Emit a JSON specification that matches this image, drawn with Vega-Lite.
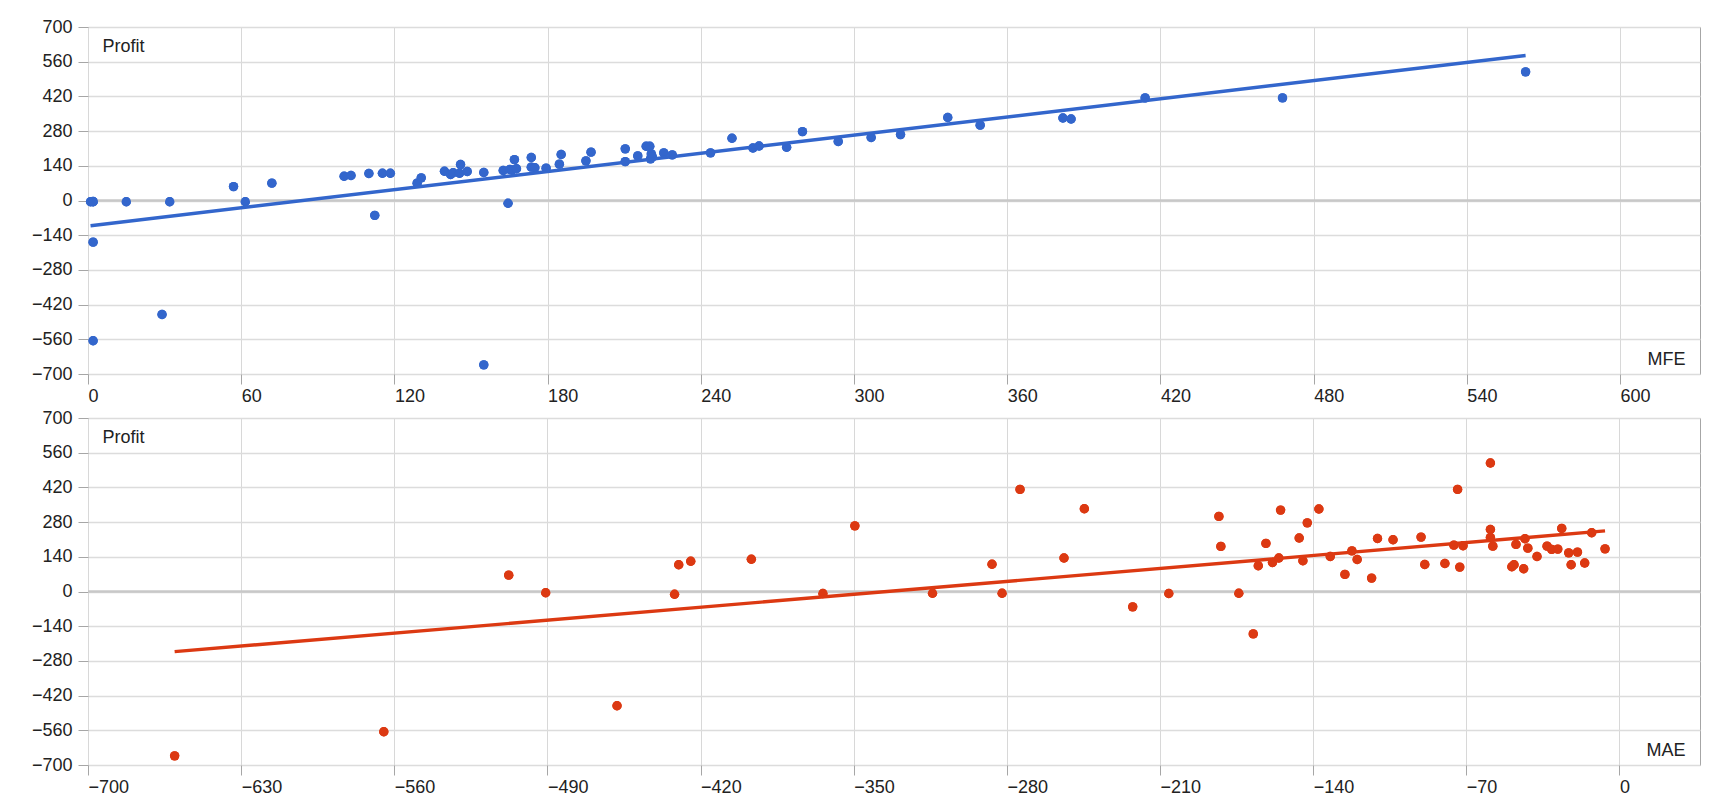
{
  "$schema": "https://vega.github.io/schema/vega-lite/v6.json",
  "padding": {"left": 30, "top": 17, "right": 0, "bottom": 0},
  "bounds": "flush",
  "spacing": 44,
  "background": "white",
  "config": {
    "font": "Liberation Sans",
    "view": {"stroke": "#a6a6a6", "strokeWidth": 1},
    "axis": {
      "labelFontSize": 18,
      "labelColor": "#222222",
      "titleFontSize": 18,
      "titleFontWeight": "normal",
      "titleColor": "#222222",
      "tickSize": 10,
      "tickColor": "#a6a6a6",
      "tickCount": 30,
      "domain": false,
      "labelOverlap": false,
      "labelFlush": false,
      "labelBound": false
    },
    "axisX": {
      "labelAlign": "left",
      "labelDx": 2,
      "labelPadding": 3,
      "gridColor": "#d8d8d8",
      "gridWidth": 1,
      "titleAlign": "right",
      "titleBaseline": "alphabetic",
      "titleX": 1597,
      "titleY": -10
    },
    "axisY": {
      "labelPadding": 6,
      "gridColor": "#dcdcdc",
      "gridWidth": 1.5,
      "titleAngle": 0,
      "titleAlign": "left",
      "titleBaseline": "alphabetic",
      "titleX": 14,
      "titleY": 24
    }
  },
  "datasets": {
    "mfe": [
      {"MFE": 1, "Profit": -5},
      {"MFE": 2, "Profit": -5},
      {"MFE": 2, "Profit": -4},
      {"MFE": 2, "Profit": -168},
      {"MFE": 2, "Profit": -566},
      {"MFE": 15, "Profit": -5},
      {"MFE": 29, "Profit": -460},
      {"MFE": 32, "Profit": -5},
      {"MFE": 57, "Profit": 56},
      {"MFE": 61.6, "Profit": -5},
      {"MFE": 72, "Profit": 70},
      {"MFE": 100.3, "Profit": 98},
      {"MFE": 103, "Profit": 101},
      {"MFE": 110, "Profit": 109},
      {"MFE": 112.3, "Profit": -60},
      {"MFE": 115.3, "Profit": 110},
      {"MFE": 118.4, "Profit": 110},
      {"MFE": 128.9, "Profit": 70},
      {"MFE": 130.5, "Profit": 91.5},
      {"MFE": 139.6, "Profit": 118},
      {"MFE": 142, "Profit": 105},
      {"MFE": 143, "Profit": 112},
      {"MFE": 145.5, "Profit": 110},
      {"MFE": 145.9, "Profit": 145},
      {"MFE": 148.5, "Profit": 117},
      {"MFE": 155, "Profit": 113},
      {"MFE": 155, "Profit": -663},
      {"MFE": 162.6, "Profit": 121},
      {"MFE": 164.5, "Profit": -11},
      {"MFE": 165.2, "Profit": 125},
      {"MFE": 166, "Profit": 123},
      {"MFE": 167, "Profit": 165},
      {"MFE": 167.8, "Profit": 128},
      {"MFE": 173.6, "Profit": 173.5},
      {"MFE": 173.6, "Profit": 134.5},
      {"MFE": 175, "Profit": 132},
      {"MFE": 179.4, "Profit": 130.5},
      {"MFE": 184.6, "Profit": 146.6},
      {"MFE": 185.3, "Profit": 185.6},
      {"MFE": 195, "Profit": 160},
      {"MFE": 197, "Profit": 195},
      {"MFE": 210.4, "Profit": 208.5},
      {"MFE": 210.4, "Profit": 157},
      {"MFE": 215.3, "Profit": 180},
      {"MFE": 218.6, "Profit": 219},
      {"MFE": 220, "Profit": 219},
      {"MFE": 220.3, "Profit": 168},
      {"MFE": 220.6, "Profit": 188},
      {"MFE": 221, "Profit": 176},
      {"MFE": 225.5, "Profit": 192},
      {"MFE": 228.8, "Profit": 184},
      {"MFE": 243.8, "Profit": 192},
      {"MFE": 252.2, "Profit": 251},
      {"MFE": 260.4, "Profit": 212},
      {"MFE": 262.8, "Profit": 220},
      {"MFE": 273.6, "Profit": 215},
      {"MFE": 279.8, "Profit": 278},
      {"MFE": 293.8, "Profit": 238},
      {"MFE": 306.7, "Profit": 254},
      {"MFE": 318.2, "Profit": 266},
      {"MFE": 336.7, "Profit": 335},
      {"MFE": 349.4, "Profit": 304},
      {"MFE": 381.8, "Profit": 333},
      {"MFE": 385, "Profit": 329},
      {"MFE": 414, "Profit": 414},
      {"MFE": 467.8, "Profit": 414},
      {"MFE": 563, "Profit": 519}
    ],
    "mae": [
      {"MAE": -660.4, "Profit": -663},
      {"MAE": -564.8, "Profit": -566},
      {"MAE": -507.7, "Profit": 66},
      {"MAE": -490.8, "Profit": -5},
      {"MAE": -458.2, "Profit": -461},
      {"MAE": -431.9, "Profit": -11},
      {"MAE": -430, "Profit": 108},
      {"MAE": -424.5, "Profit": 122},
      {"MAE": -396.8, "Profit": 130},
      {"MAE": -364.1, "Profit": -8},
      {"MAE": -349.5, "Profit": 265},
      {"MAE": -314, "Profit": -7},
      {"MAE": -286.8, "Profit": 110},
      {"MAE": -282.2, "Profit": -7},
      {"MAE": -274, "Profit": 412},
      {"MAE": -253.9, "Profit": 135},
      {"MAE": -244.6, "Profit": 334},
      {"MAE": -222.5, "Profit": -62},
      {"MAE": -206, "Profit": -8},
      {"MAE": -183.1, "Profit": 303},
      {"MAE": -182.2, "Profit": 182},
      {"MAE": -174, "Profit": -7},
      {"MAE": -167.4, "Profit": -171},
      {"MAE": -165.1, "Profit": 104},
      {"MAE": -161.6, "Profit": 194},
      {"MAE": -158.6, "Profit": 117},
      {"MAE": -155.7, "Profit": 135},
      {"MAE": -154.9, "Profit": 328.5},
      {"MAE": -146.4, "Profit": 216},
      {"MAE": -144.7, "Profit": 124},
      {"MAE": -142.7, "Profit": 277},
      {"MAE": -137.4, "Profit": 333},
      {"MAE": -132.2, "Profit": 141},
      {"MAE": -125.5, "Profit": 69},
      {"MAE": -122.3, "Profit": 164},
      {"MAE": -119.9, "Profit": 129},
      {"MAE": -113.3, "Profit": 54},
      {"MAE": -110.6, "Profit": 214},
      {"MAE": -103.5, "Profit": 209},
      {"MAE": -90.7, "Profit": 219.5},
      {"MAE": -89, "Profit": 109},
      {"MAE": -79.8, "Profit": 113},
      {"MAE": -75.7, "Profit": 187},
      {"MAE": -74, "Profit": 412},
      {"MAE": -73, "Profit": 98.5},
      {"MAE": -71.5, "Profit": 184.5},
      {"MAE": -59, "Profit": 518.5},
      {"MAE": -59, "Profit": 250},
      {"MAE": -59, "Profit": 218},
      {"MAE": -57.9, "Profit": 183},
      {"MAE": -49.2, "Profit": 100},
      {"MAE": -48.2, "Profit": 108},
      {"MAE": -47.3, "Profit": 190},
      {"MAE": -43.8, "Profit": 92},
      {"MAE": -43.2, "Profit": 213},
      {"MAE": -41.9, "Profit": 175},
      {"MAE": -37.7, "Profit": 141},
      {"MAE": -33.1, "Profit": 183},
      {"MAE": -31, "Profit": 170},
      {"MAE": -28.2, "Profit": 171},
      {"MAE": -26.4, "Profit": 254.5},
      {"MAE": -23.2, "Profit": 156},
      {"MAE": -22.1, "Profit": 108},
      {"MAE": -19.2, "Profit": 159},
      {"MAE": -15.9, "Profit": 115},
      {"MAE": -12.7, "Profit": 237},
      {"MAE": -6.6, "Profit": 172}
    ]
  },
  "vconcat": [
    {
      "width": 1612,
      "height": 347,
      "layer": [
        {
          "data": {"name": "mfe"},
          "mark": {"type": "circle", "size": 88, "opacity": 1, "color": "#3366cc"},
          "encoding": {
            "x": {
              "field": "MFE",
              "type": "quantitative",
              "scale": {"domain": [0, 631.3], "nice": false, "zero": false},
              "axis": {"title": "MFE", "tickCount": 30, "values": [0, 60, 120, 180, 240, 300, 360, 420, 480, 540, 600]}
            },
            "y": {
              "field": "Profit",
              "type": "quantitative",
              "scale": {"domain": [-700, 700], "nice": false},
              "axis": {"title": "Profit", "tickCount": 30, "values": [-700, -560, -420, -280, -140, 0, 140, 280, 420, 560, 700]}
            }
          }
        },
        {
          "data": {"values": [{}]},
          "mark": {"type": "rule", "color": "#c8c8c8", "strokeWidth": 2.5},
          "encoding": {
            "y": {"datum": 0, "type": "quantitative"}
          }
        },
        {
          "data": {"name": "mfe"},
          "mark": {"type": "circle", "size": 88, "opacity": 1, "color": "#3366cc"},
          "encoding": {
            "x": {"field": "MFE", "type": "quantitative"},
            "y": {"field": "Profit", "type": "quantitative"}
          }
        },
        {
          "data": {"name": "mfe"},
          "transform": [{"regression": "Profit", "on": "MFE"}],
          "mark": {"type": "line", "color": "#3366cc", "strokeWidth": 3.4},
          "encoding": {
            "x": {"field": "MFE", "type": "quantitative"},
            "y": {"field": "Profit", "type": "quantitative"}
          }
        }
      ]
    },
    {
      "width": 1612,
      "height": 347,
      "layer": [
        {
          "data": {"name": "mae"},
          "mark": {"type": "circle", "size": 88, "opacity": 1, "color": "#dc3912"},
          "encoding": {
            "x": {
              "field": "MAE",
              "type": "quantitative",
              "scale": {"domain": [-700, 36.8], "nice": false, "zero": false},
              "axis": {"title": "MAE", "tickCount": 30, "values": [-700, -630, -560, -490, -420, -350, -280, -210, -140, -70, 0]}
            },
            "y": {
              "field": "Profit",
              "type": "quantitative",
              "scale": {"domain": [-700, 700], "nice": false},
              "axis": {"title": "Profit", "tickCount": 30, "values": [-700, -560, -420, -280, -140, 0, 140, 280, 420, 560, 700]}
            }
          }
        },
        {
          "data": {"values": [{}]},
          "mark": {"type": "rule", "color": "#c8c8c8", "strokeWidth": 2.5},
          "encoding": {
            "y": {"datum": 0, "type": "quantitative"}
          }
        },
        {
          "data": {"name": "mae"},
          "mark": {"type": "circle", "size": 88, "opacity": 1, "color": "#dc3912"},
          "encoding": {
            "x": {"field": "MAE", "type": "quantitative"},
            "y": {"field": "Profit", "type": "quantitative"}
          }
        },
        {
          "data": {"name": "mae"},
          "transform": [{"regression": "Profit", "on": "MAE"}],
          "mark": {"type": "line", "color": "#dc3912", "strokeWidth": 3.4},
          "encoding": {
            "x": {"field": "MAE", "type": "quantitative"},
            "y": {"field": "Profit", "type": "quantitative"}
          }
        }
      ]
    }
  ]
}
